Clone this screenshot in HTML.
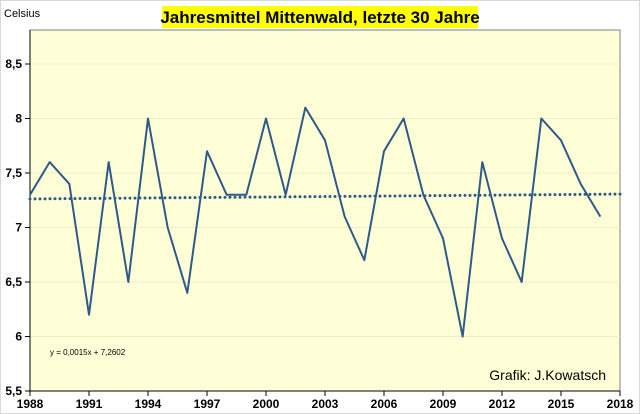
<!DOCTYPE html>
<html><head><meta charset="utf-8"><style>
body{margin:0;background:#fff;}
svg{display:block;font-family:"Liberation Sans",sans-serif;}
</style></head><body>
<svg width="640" height="414">
<rect x="0.5" y="0.5" width="639" height="413" fill="#fff" stroke="#d9d9d9"/>
<rect x="30" y="30" width="590" height="361" fill="#ffffd7" stroke="#808080"/>
<g id="grid"></g><g id="axes"></g><g id="series"></g>
<rect x="162" y="6" width="316" height="22" fill="#ffff00"/>
<text x="320" y="23" text-anchor="middle" font-size="17" font-weight="bold">Jahresmittel Mittenwald, letzte 30 Jahre</text>
<text x="4" y="17" font-size="11">Celsius</text>
<text x="50" y="355" font-size="8">y = 0,0015x + 7,2602</text>
<text x="606" y="380" text-anchor="end" font-size="14">Grafik: J.Kowatsch</text>
</svg>
<script>
const years=[1988,1989,1990,1991,1992,1993,1994,1995,1996,1997,1998,1999,2000,2001,2002,2003,2004,2005,2006,2007,2008,2009,2010,2011,2012,2013,2014,2015,2016,2017];
const temps=[7.3,7.6,7.4,6.2,7.6,6.5,8.0,7.0,6.4,7.7,7.3,7.3,8.0,7.3,8.1,7.8,7.1,6.7,7.7,8.0,7.3,6.9,6.0,7.6,6.9,6.5,8.0,7.8,7.4,7.1];
const yTicks=[5.5,6,6.5,7,7.5,8,8.5];
const xTicks=[1988,1991,1994,1997,2000,2003,2006,2009,2012,2015,2018];
const trendSlope=0.0015, trendIntercept=7.2602;
const NS='http://www.w3.org/2000/svg';
const X=v=>30+(v-1988)*590/30;
const Y=v=>391-(v-5.5)*109;
function mk(p,t,a){const e=document.createElementNS(NS,t);for(const k in a)e.setAttribute(k,a[k]);document.getElementById(p).appendChild(e);return e;}
yTicks.forEach(v=>{
 if(v>5.5){const g=mk('grid','line',{x1:30,x2:620,y1:Y(v),y2:Y(v),stroke:'#f0ecc8','stroke-width':1});
 
 }
 const t=mk('axes','line',{x1:25,x2:30,y1:Y(v),y2:Y(v),stroke:'#000'});
 
 
 const l=mk('axes','text',{x:22,y:Y(v)+4,'text-anchor':'end','font-size':12,'font-weight':'bold'});
 l.textContent=String(v).replace('.',',');
 
 
});
const xa=mk('axes','line',{x1:30,x2:620,y1:391,y2:391,stroke:'#000'});


const ya=mk('axes','line',{x1:30,x2:30,y1:30,y2:391,stroke:'#000'});


xTicks.forEach(v=>{
 const t=mk('axes','line',{x1:X(v),x2:X(v),y1:391,y2:396,stroke:'#000'});
 
 
 const l=mk('axes','text',{x:X(v),y:408,'text-anchor':'middle','font-size':12,'font-weight':'bold'});
 l.textContent=v;
 
 
});
const tr=mk('series','line',{x1:X(years[0]),x2:620,y1:Y(trendIntercept+trendSlope*1),y2:Y(trendIntercept+trendSlope*31),stroke:'#2e5a8a','stroke-width':3,'stroke-dasharray':'0 5','stroke-linecap':'round'});


const pl=mk('series','polyline',{points:years.map((y,i)=>X(y)+','+Y(temps[i])).join(' '),fill:'none',stroke:'#2e5a8a','stroke-width':2,'stroke-linejoin':'round'});


</script>
</body></html>
